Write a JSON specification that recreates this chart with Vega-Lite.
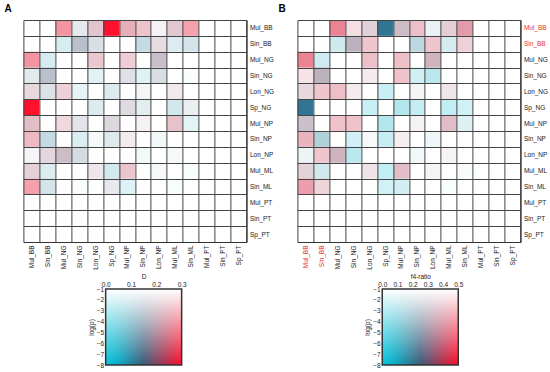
{
  "$schema": "https://vega.github.io/schema/vega-lite/v6.json",
  "background": "white",
  "padding": {"left": 4, "top": 4, "right": 4, "bottom": 4},
  "config": {
    "font": "Liberation Sans",
    "view": {"stroke": null},
    "axis": {"labelFont": "Liberation Sans", "titleFont": "Liberation Sans", "labelColor": "#222", "titleColor": "#222"}
  },
  "datasets": {
    "a": [
      {"r":"Mul_BB","c":"Mul_NG","D":0.28,"lp":-4.2},
      {"r":"Mul_BB","c":"Sin_NG","D":0.15,"lp":-1.9},
      {"r":"Mul_BB","c":"Lon_NG","D":0.22,"lp":-3},
      {"r":"Mul_BB","c":"Sp_NG","D":0.3,"lp":-7.8},
      {"r":"Mul_BB","c":"Mul_NP","D":0.25,"lp":-3.6},
      {"r":"Mul_BB","c":"Sin_NP","D":0.25,"lp":-2.9},
      {"r":"Mul_BB","c":"Lon_NP","D":0.18,"lp":-1.5},
      {"r":"Mul_BB","c":"Mul_ML","D":0.22,"lp":-2.9},
      {"r":"Mul_BB","c":"Sin_ML","D":0.28,"lp":-3.8},
      {"r":"Sin_BB","c":"Mul_NG","D":0.08,"lp":-2.2},
      {"r":"Sin_BB","c":"Sin_NG","D":0.16,"lp":-3.6},
      {"r":"Sin_BB","c":"Lon_NG","D":0.14,"lp":-2.4},
      {"r":"Sin_BB","c":"Sin_NP","D":0.11,"lp":-2.9},
      {"r":"Sin_BB","c":"Lon_NP","D":0.2,"lp":-2.3},
      {"r":"Sin_BB","c":"Mul_ML","D":0.09,"lp":-2.1},
      {"r":"Sin_BB","c":"Sin_ML","D":0.11,"lp":-2.4},
      {"r":"Mul_NG","c":"Mul_BB","D":0.28,"lp":-4.2},
      {"r":"Mul_NG","c":"Sin_BB","D":0.08,"lp":-2.2},
      {"r":"Mul_NG","c":"Lon_NG","D":0.24,"lp":-2.8},
      {"r":"Mul_NG","c":"Mul_NP","D":0.25,"lp":-2.6},
      {"r":"Mul_NG","c":"Lon_NP","D":0.18,"lp":-3.5},
      {"r":"Sin_NG","c":"Mul_BB","D":0.13,"lp":-2},
      {"r":"Sin_NG","c":"Sin_BB","D":0.16,"lp":-3.6},
      {"r":"Sin_NG","c":"Lon_NG","D":0.08,"lp":-1.9},
      {"r":"Sin_NG","c":"Mul_NP","D":0.16,"lp":-2.3},
      {"r":"Sin_NG","c":"Sin_NP","D":0.06,"lp":-1.9},
      {"r":"Sin_NG","c":"Lon_NP","D":0.15,"lp":-2.4},
      {"r":"Sin_NG","c":"Sin_ML","D":0.05,"lp":-1.15},
      {"r":"Lon_NG","c":"Mul_BB","D":0.21,"lp":-2.4},
      {"r":"Lon_NG","c":"Sin_BB","D":0.14,"lp":-2.3},
      {"r":"Lon_NG","c":"Mul_NG","D":0.24,"lp":-2.5},
      {"r":"Lon_NG","c":"Sin_NG","D":0.07,"lp":-1.8},
      {"r":"Lon_NG","c":"Sp_NG","D":0.11,"lp":-2.1},
      {"r":"Lon_NG","c":"Sin_NP","D":0.16,"lp":-1.4},
      {"r":"Lon_NG","c":"Mul_ML","D":0.21,"lp":-1.8},
      {"r":"Sp_NG","c":"Mul_BB","D":0.3,"lp":-7.8},
      {"r":"Sp_NG","c":"Lon_NG","D":0.11,"lp":-2.1},
      {"r":"Sp_NG","c":"Mul_NP","D":0.18,"lp":-2.4},
      {"r":"Sp_NG","c":"Sin_NP","D":0.11,"lp":-1.9},
      {"r":"Sp_NG","c":"Mul_ML","D":0.09,"lp":-2.4},
      {"r":"Sp_NG","c":"Sin_ML","D":0.14,"lp":-1.7},
      {"r":"Mul_NP","c":"Mul_BB","D":0.23,"lp":-3.2},
      {"r":"Mul_NP","c":"Mul_NG","D":0.24,"lp":-2.3},
      {"r":"Mul_NP","c":"Sin_NG","D":0.16,"lp":-2.1},
      {"r":"Mul_NP","c":"Sp_NG","D":0.18,"lp":-2.5},
      {"r":"Mul_NP","c":"Sin_NP","D":0.2,"lp":-1.5},
      {"r":"Mul_NP","c":"Mul_ML","D":0.24,"lp":-3},
      {"r":"Mul_NP","c":"Sin_ML","D":0.06,"lp":-1.8},
      {"r":"Sin_NP","c":"Mul_BB","D":0.26,"lp":-3.2},
      {"r":"Sin_NP","c":"Sin_BB","D":0.11,"lp":-2.9},
      {"r":"Sin_NP","c":"Sin_NG","D":0.07,"lp":-2.1},
      {"r":"Sin_NP","c":"Lon_NG","D":0.14,"lp":-1.3},
      {"r":"Sin_NP","c":"Sp_NG","D":0.12,"lp":-2.1},
      {"r":"Sin_NP","c":"Mul_NP","D":0.2,"lp":-1.7},
      {"r":"Sin_NP","c":"Lon_NP","D":0.09,"lp":-1.4},
      {"r":"Lon_NP","c":"Mul_BB","D":0.18,"lp":-1.4},
      {"r":"Lon_NP","c":"Sin_BB","D":0.2,"lp":-2.5},
      {"r":"Lon_NP","c":"Mul_NG","D":0.19,"lp":-3.5},
      {"r":"Lon_NP","c":"Sin_NG","D":0.15,"lp":-2.5},
      {"r":"Lon_NP","c":"Sin_NP","D":0.08,"lp":-1.4},
      {"r":"Lon_NP","c":"Mul_ML","D":0.13,"lp":-1.3},
      {"r":"Mul_ML","c":"Mul_BB","D":0.22,"lp":-2.6},
      {"r":"Mul_ML","c":"Sin_BB","D":0.09,"lp":-2.1},
      {"r":"Mul_ML","c":"Lon_NG","D":0.2,"lp":-1.9},
      {"r":"Mul_ML","c":"Sp_NG","D":0.09,"lp":-2.4},
      {"r":"Mul_ML","c":"Mul_NP","D":0.24,"lp":-2.9},
      {"r":"Mul_ML","c":"Lon_NP","D":0.13,"lp":-1.3},
      {"r":"Mul_ML","c":"Sin_ML","D":0.05,"lp":-1.2},
      {"r":"Sin_ML","c":"Mul_BB","D":0.28,"lp":-3.8},
      {"r":"Sin_ML","c":"Sin_BB","D":0.11,"lp":-2.4},
      {"r":"Sin_ML","c":"Sin_NG","D":0.05,"lp":-1.15},
      {"r":"Sin_ML","c":"Sp_NG","D":0.15,"lp":-1.9},
      {"r":"Sin_ML","c":"Mul_NP","D":0.06,"lp":-2},
      {"r":"Sin_ML","c":"Mul_ML","D":0.05,"lp":-1.2}
    ],
    "b": [
      {"r":"Mul_BB","c":"Mul_NG","f4":0.45,"lp":-4.8},
      {"r":"Mul_BB","c":"Sin_NG","f4":0.4,"lp":-2.1},
      {"r":"Mul_BB","c":"Lon_NG","f4":0.34,"lp":-2.7},
      {"r":"Mul_BB","c":"Sp_NG","f4":0.2,"lp":-7.8},
      {"r":"Mul_BB","c":"Mul_NP","f4":0.32,"lp":-3.5},
      {"r":"Mul_BB","c":"Sin_NP","f4":0.42,"lp":-3},
      {"r":"Mul_BB","c":"Lon_NP","f4":0.2,"lp":-1.7},
      {"r":"Mul_BB","c":"Mul_ML","f4":0.36,"lp":-2.7},
      {"r":"Mul_BB","c":"Sin_ML","f4":0.42,"lp":-4.2},
      {"r":"Sin_BB","c":"Mul_NG","f4":0.13,"lp":-2.4},
      {"r":"Sin_BB","c":"Sin_NG","f4":0.3,"lp":-4},
      {"r":"Sin_BB","c":"Lon_NG","f4":0.42,"lp":-2.8},
      {"r":"Sin_BB","c":"Sin_NP","f4":0.18,"lp":-3.1},
      {"r":"Sin_BB","c":"Lon_NP","f4":0.42,"lp":-2.8},
      {"r":"Sin_BB","c":"Mul_ML","f4":0.13,"lp":-2.3},
      {"r":"Sin_BB","c":"Sin_ML","f4":0.4,"lp":-2.5},
      {"r":"Mul_NG","c":"Mul_BB","f4":0.45,"lp":-4.8},
      {"r":"Mul_NG","c":"Sin_BB","f4":0.11,"lp":-2.4},
      {"r":"Mul_NG","c":"Lon_NG","f4":0.42,"lp":-3},
      {"r":"Mul_NG","c":"Mul_NP","f4":0.43,"lp":-3},
      {"r":"Mul_NG","c":"Lon_NP","f4":0.34,"lp":-3.7},
      {"r":"Sin_NG","c":"Mul_BB","f4":0.42,"lp":-1.9},
      {"r":"Sin_NG","c":"Sin_BB","f4":0.3,"lp":-4},
      {"r":"Sin_NG","c":"Lon_NG","f4":0.38,"lp":-1.7},
      {"r":"Sin_NG","c":"Mul_NP","f4":0.43,"lp":-2.9},
      {"r":"Sin_NG","c":"Sin_NP","f4":0.08,"lp":-2.3},
      {"r":"Sin_NG","c":"Lon_NP","f4":0.08,"lp":-2.9},
      {"r":"Lon_NG","c":"Mul_BB","f4":0.35,"lp":-2.4},
      {"r":"Lon_NG","c":"Sin_BB","f4":0.42,"lp":-2.8},
      {"r":"Lon_NG","c":"Mul_NG","f4":0.43,"lp":-3},
      {"r":"Lon_NG","c":"Sin_NG","f4":0.38,"lp":-1.7},
      {"r":"Lon_NG","c":"Sp_NG","f4":0.04,"lp":-2.5},
      {"r":"Lon_NG","c":"Sin_NP","f4":0.25,"lp":-1.4},
      {"r":"Lon_NG","c":"Mul_ML","f4":0.35,"lp":-1.9},
      {"r":"Sp_NG","c":"Mul_BB","f4":0.2,"lp":-7.8},
      {"r":"Sp_NG","c":"Lon_NG","f4":0.04,"lp":-2.5},
      {"r":"Sp_NG","c":"Mul_NP","f4":0.07,"lp":-3.1},
      {"r":"Sp_NG","c":"Sin_NP","f4":0.07,"lp":-2.6},
      {"r":"Sp_NG","c":"Mul_ML","f4":0.04,"lp":-2.7},
      {"r":"Sp_NG","c":"Sin_ML","f4":0.05,"lp":-2.3},
      {"r":"Mul_NP","c":"Mul_BB","f4":0.31,"lp":-3.4},
      {"r":"Mul_NP","c":"Mul_NG","f4":0.43,"lp":-2.9},
      {"r":"Mul_NP","c":"Sin_NG","f4":0.43,"lp":-2.9},
      {"r":"Mul_NP","c":"Sp_NG","f4":0.07,"lp":-3.1},
      {"r":"Mul_NP","c":"Sin_NP","f4":0.3,"lp":-1.5},
      {"r":"Mul_NP","c":"Mul_ML","f4":0.38,"lp":-3.2},
      {"r":"Mul_NP","c":"Sin_ML","f4":0.11,"lp":-2},
      {"r":"Sin_NP","c":"Mul_BB","f4":0.42,"lp":-3.4},
      {"r":"Sin_NP","c":"Sin_BB","f4":0.18,"lp":-3.5},
      {"r":"Sin_NP","c":"Sin_NG","f4":0.09,"lp":-2.3},
      {"r":"Sin_NP","c":"Lon_NG","f4":0.25,"lp":-1.3},
      {"r":"Sin_NP","c":"Sp_NG","f4":0.07,"lp":-2.6},
      {"r":"Sin_NP","c":"Mul_NP","f4":0.35,"lp":-1.6},
      {"r":"Sin_NP","c":"Lon_NP","f4":0.13,"lp":-1.5},
      {"r":"Lon_NP","c":"Mul_BB","f4":0.18,"lp":-1.6},
      {"r":"Lon_NP","c":"Sin_BB","f4":0.42,"lp":-2.8},
      {"r":"Lon_NP","c":"Mul_NG","f4":0.34,"lp":-3.7},
      {"r":"Lon_NP","c":"Sin_NG","f4":0.08,"lp":-2.9},
      {"r":"Lon_NP","c":"Sin_NP","f4":0.15,"lp":-1.4},
      {"r":"Lon_NP","c":"Mul_ML","f4":0.3,"lp":-1.4},
      {"r":"Mul_ML","c":"Mul_BB","f4":0.35,"lp":-2.6},
      {"r":"Mul_ML","c":"Sin_BB","f4":0.13,"lp":-2.4},
      {"r":"Mul_ML","c":"Lon_NG","f4":0.35,"lp":-2},
      {"r":"Mul_ML","c":"Sp_NG","f4":0.04,"lp":-2.7},
      {"r":"Mul_ML","c":"Mul_NP","f4":0.38,"lp":-3.2},
      {"r":"Mul_ML","c":"Lon_NP","f4":0.3,"lp":-1.4},
      {"r":"Mul_ML","c":"Sin_ML","f4":0.12,"lp":-1.2},
      {"r":"Sin_ML","c":"Mul_BB","f4":0.44,"lp":-4},
      {"r":"Sin_ML","c":"Sin_BB","f4":0.4,"lp":-2.4},
      {"r":"Sin_ML","c":"Sp_NG","f4":0.05,"lp":-2.3},
      {"r":"Sin_ML","c":"Mul_NP","f4":0.1,"lp":-2.3},
      {"r":"Sin_ML","c":"Mul_ML","f4":0.08,"lp":-1.2}
    ]
  },
  "spacing": 4,
  "resolve": {"scale": {"x": "independent", "y": "independent", "color": "independent", "fillOpacity": "independent"}},
  "hconcat": [
    {
      "spacing": 3,
      "center": true,
      "resolve": {"scale": {"x": "independent", "y": "independent"}},
      "vconcat": [
        {
          "width": 223, "height": 222,
          "data": {"name": "a"},
          "title": {"text": "A", "anchor": "start", "fontSize": 10, "fontWeight": "bold", "color": "#000", "dx": -16, "offset": 3, "font": "Liberation Sans"},
          "mark": {"type": "rect"},
          "encoding": {
            "x": {"field": "c", "type": "nominal",
              "scale": {"domain": ["Mul_BB","Sin_BB","Mul_NG","Sin_NG","Lon_NG","Sp_NG","Mul_NP","Sin_NP","Lon_NP","Mul_ML","Sin_ML","Mul_PT","Sin_PT","Sp_PT"], "paddingInner": 0, "paddingOuter": 0},
              "axis": {"title": null, "orient": "bottom", "labelAngle": -90, "labelFontSize": 6.5, "labelPadding": 3, "ticks": false, "grid": true, "tickBand": "extent", "gridColor": "#444", "gridOpacity": 1, "gridWidth": 1, "domainColor": "#333", "domainWidth": 1.2, "zindex": 1}},
            "y": {"field": "r", "type": "nominal",
              "scale": {"domain": ["Mul_BB","Sin_BB","Mul_NG","Sin_NG","Lon_NG","Sp_NG","Mul_NP","Sin_NP","Lon_NP","Mul_ML","Sin_ML","Mul_PT","Sin_PT","Sp_PT"], "paddingInner": 0, "paddingOuter": 0},
              "axis": {"title": null, "orient": "right", "labelFontSize": 6.5, "labelPadding": 3, "ticks": false, "grid": true, "tickBand": "extent", "gridColor": "#444", "gridOpacity": 1, "gridWidth": 1, "domainColor": "#333", "domainWidth": 1.2, "zindex": 1}},
            "color": {"field": "D", "type": "quantitative", "scale": {"domain": [0, 0.05, 0.15, 0.3], "range": ["#00c4dc", "#04aac4", "#3a5a78", "#ff0a28"], "interpolate": "rgb"}, "legend": null},
            "fillOpacity": {"field": "lp", "type": "quantitative", "scale": {"domain": [-1, -8], "range": [0, 1]}, "legend": null}
          }
        },
        {
          "width": 85.7, "height": 76,
          "data": {"values": [{}]},
          "encoding": {
            "x": {"datum": 0, "type": "quantitative", "scale": {"domain": [0, 0.3383], "nice": false},
              "axis": {"orient": "top", "title": "D", "titleX": 38, "titleFontSize": 6.5, "titleFontWeight": "normal", "titlePadding": 2, "labelFontSize": 6.5, "labelPadding": 2, "ticks": false, "domain": false, "grid": false, "values": [0, 0.1, 0.2, 0.3], "format": ".1f", "labelFlush": false}},
            "x2": {"datum": 0.3},
            "y": {"datum": -8, "type": "quantitative", "scale": {"domain": [-8, -1], "nice": false},
              "axis": {"orient": "left", "title": "log(p)", "titleFontSize": 6.5, "titleFontWeight": "normal", "titlePadding": 2, "labelFontSize": 6.5, "labelPadding": 2, "ticks": false, "domain": false, "grid": false, "values": [-1, -2, -3, -4, -5, -6, -7, -8], "format": "d", "labelFlush": false}},
            "y2": {"datum": -1}
          },
          "layer": [
            {"mark": {"type": "rect", "fill": {"gradient": "linear", "x1": 0, "y1": 0, "x2": 1, "y2": 0, "stops": [{"offset": 0, "color": "#00c4dc"}, {"offset": 0.167, "color": "#04aac4"}, {"offset": 0.5, "color": "#3a5a78"}, {"offset": 1, "color": "#ff0a28"}]}}},
            {"mark": {"type": "rect", "fill": {"gradient": "linear", "x1": 0, "y1": 0, "x2": 0, "y2": 1, "stops": [{"offset": 0, "color": "rgba(255,255,255,1)"}, {"offset": 1, "color": "rgba(255,255,255,0)"}]}}},
            {"mark": {"type": "rect", "filled": false, "stroke": "#333", "strokeWidth": 1.5}}
          ]
        }
      ]
    },
    {
      "spacing": 3,
      "center": true,
      "resolve": {"scale": {"x": "independent", "y": "independent"}},
      "vconcat": [
        {
          "width": 223, "height": 222,
          "data": {"name": "b"},
          "title": {"text": "B", "anchor": "start", "fontSize": 10, "fontWeight": "bold", "color": "#000", "dx": -16, "offset": 3, "font": "Liberation Sans"},
          "mark": {"type": "rect"},
          "encoding": {
            "x": {"field": "c", "type": "nominal",
              "scale": {"domain": ["Mul_BB","Sin_BB","Mul_NG","Sin_NG","Lon_NG","Sp_NG","Mul_NP","Sin_NP","Lon_NP","Mul_ML","Sin_ML","Mul_PT","Sin_PT","Sp_PT"], "paddingInner": 0, "paddingOuter": 0},
              "axis": {"title": null, "orient": "bottom", "labelAngle": -90, "labelFontSize": 6.5, "labelPadding": 3, "ticks": false, "grid": true, "tickBand": "extent", "gridColor": "#444", "gridOpacity": 1, "gridWidth": 1, "domainColor": "#333", "domainWidth": 1.2, "zindex": 1,
                "labelColor": {"condition": {"test": "datum.value == 'Mul_BB' || datum.value == 'Sin_BB'", "value": "#e8332c"}, "value": "#222"}}},
            "y": {"field": "r", "type": "nominal",
              "scale": {"domain": ["Mul_BB","Sin_BB","Mul_NG","Sin_NG","Lon_NG","Sp_NG","Mul_NP","Sin_NP","Lon_NP","Mul_ML","Sin_ML","Mul_PT","Sin_PT","Sp_PT"], "paddingInner": 0, "paddingOuter": 0},
              "axis": {"title": null, "orient": "right", "labelFontSize": 6.5, "labelPadding": 3, "ticks": false, "grid": true, "tickBand": "extent", "gridColor": "#444", "gridOpacity": 1, "gridWidth": 1, "domainColor": "#333", "domainWidth": 1.2, "zindex": 1,
                "labelColor": {"condition": {"test": "datum.value == 'Mul_BB' || datum.value == 'Sin_BB'", "value": "#e8332c"}, "value": "#222"}}},
            "color": {"field": "f4", "type": "quantitative", "scale": {"domain": [0, 0.083, 0.25, 0.5], "range": ["#00c4dc", "#04aac4", "#3a5a78", "#ff0a28"], "interpolate": "rgb"}, "legend": null},
            "fillOpacity": {"field": "lp", "type": "quantitative", "scale": {"domain": [-1, -8], "range": [0, 1]}, "legend": null}
          }
        },
        {
          "width": 78.7, "height": 76,
          "data": {"values": [{}]},
          "encoding": {
            "x": {"datum": 0, "type": "quantitative", "scale": {"domain": [0, 0.5178], "nice": false},
              "axis": {"orient": "top", "title": "f4-ratio", "titleX": 38, "titleFontSize": 6.5, "titleFontWeight": "normal", "titlePadding": 2, "labelFontSize": 6.5, "labelPadding": 2, "ticks": false, "domain": false, "grid": false, "values": [0, 0.1, 0.2, 0.3, 0.4, 0.5], "format": ".1f", "labelFlush": false}},
            "x2": {"datum": 0.5},
            "y": {"datum": -8, "type": "quantitative", "scale": {"domain": [-8, -1], "nice": false},
              "axis": {"orient": "left", "title": "log(p)", "titleFontSize": 6.5, "titleFontWeight": "normal", "titlePadding": 2, "labelFontSize": 6.5, "labelPadding": 2, "ticks": false, "domain": false, "grid": false, "values": [-1, -2, -3, -4, -5, -6, -7, -8], "format": "d", "labelFlush": false}},
            "y2": {"datum": -1}
          },
          "layer": [
            {"mark": {"type": "rect", "fill": {"gradient": "linear", "x1": 0, "y1": 0, "x2": 1, "y2": 0, "stops": [{"offset": 0, "color": "#00c4dc"}, {"offset": 0.167, "color": "#04aac4"}, {"offset": 0.5, "color": "#3a5a78"}, {"offset": 1, "color": "#ff0a28"}]}}},
            {"mark": {"type": "rect", "fill": {"gradient": "linear", "x1": 0, "y1": 0, "x2": 0, "y2": 1, "stops": [{"offset": 0, "color": "rgba(255,255,255,1)"}, {"offset": 1, "color": "rgba(255,255,255,0)"}]}}},
            {"mark": {"type": "rect", "filled": false, "stroke": "#333", "strokeWidth": 1.5}}
          ]
        }
      ]
    }
  ]
}
